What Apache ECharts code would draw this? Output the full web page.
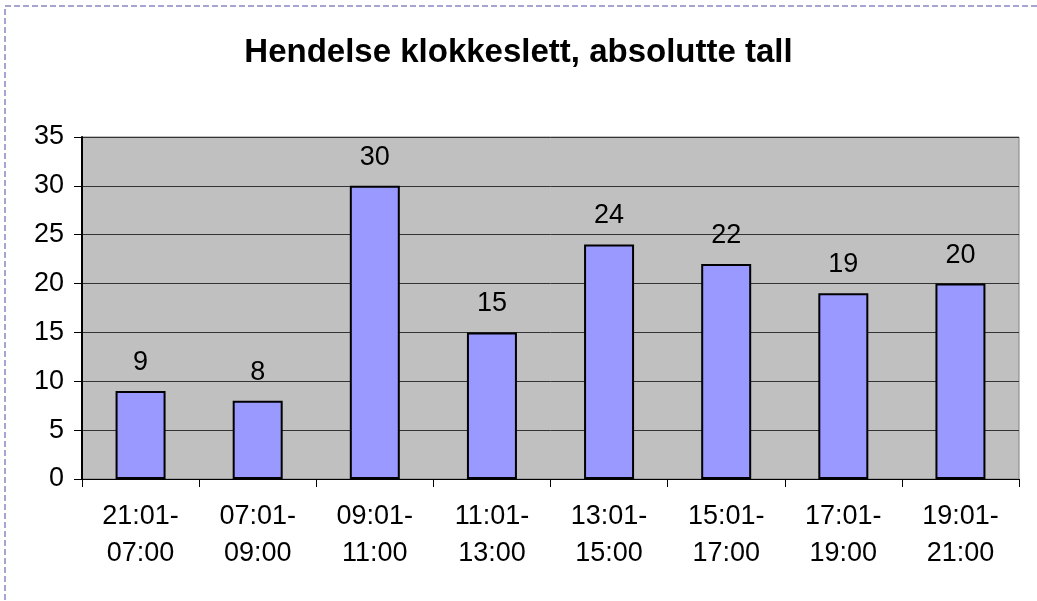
<!DOCTYPE html>
<html>
<head>
<meta charset="utf-8">
<script src="https://cdn.jsdelivr.net/npm/echarts@6/dist/echarts.min.js"></script>
<style>
  html, body { margin: 0; padding: 0; background: #fff; }
  #chart { width: 1037px; height: 601px; }
</style>
</head>
<body>
<div id="chart"></div>
<script>
// time intervals (kategorier)
const categories = ['21:01-\n07:00', '07:01-\n09:00', '09:01-\n11:00', '11:01-\n13:00',
  '13:01-\n15:00', '15:01-\n17:00', '17:01-\n19:00', '19:01-\n21:00'];
const counts = [9, 8, 30, 15, 24, 22, 19, 20];
const yTicks = [0, 5, 10, 15, 20, 25, 30, 35];

const FONT = 'Liberation Sans, Arial, sans-serif';
const chart = echarts.init(document.getElementById('chart'));
chart.setOption({
  animation: false,
  textStyle: { fontFamily: FONT },
  title: {
    text: 'Hendelse klokkeslett, absolutte tall',
    left: 'center',
    top: 31,
    textStyle: { fontSize: 33, fontWeight: 'bold', color: '#000', fontFamily: FONT }
  },
  graphic: [{
    type: 'rect',
    shape: { x: 5, y: 6, width: 1100, height: 700 },
    style: { fill: 'none', stroke: '#8888c4', lineWidth: 1.5, lineDash: [6, 3] },
    silent: true
  }],
  grid: {
    left: 82, right: 18, top: 137, bottom: 122,
    show: true,
    backgroundColor: '#c0c0c0',
    borderColor: '#808080',
    borderWidth: 1
  },
  xAxis: {
    type: 'category',
    data: categories,
    axisLine: { lineStyle: { color: '#000', width: 1 } },
    axisTick: { show: true, length: 8, alignWithLabel: false, lineStyle: { color: '#000' } },
    axisLabel: { color: '#000', fontSize: 27, margin: 19, lineHeight: 37, fontFamily: FONT }
  },
  yAxis: {
    type: 'value',
    min: yTicks[0],
    max: yTicks[yTicks.length - 1],
    interval: 5,
    axisLine: { show: true, lineStyle: { color: '#000', width: 2 } },
    axisTick: { show: true, length: 8, lineStyle: { color: '#000' } },
    axisLabel: { color: '#000', fontSize: 27, margin: 18, fontFamily: FONT },
    splitLine: { show: true, lineStyle: { color: '#333', width: 1 } }
  },
  series: [{
    type: 'bar',
    data: counts,
    barWidth: 50,
    itemStyle: { color: '#9999ff', borderColor: '#000', borderWidth: 2 },
    label: { show: true, position: 'top', distance: 15, color: '#000', fontSize: 27, fontFamily: FONT }
  }]
});
</script>
</body>
</html>
